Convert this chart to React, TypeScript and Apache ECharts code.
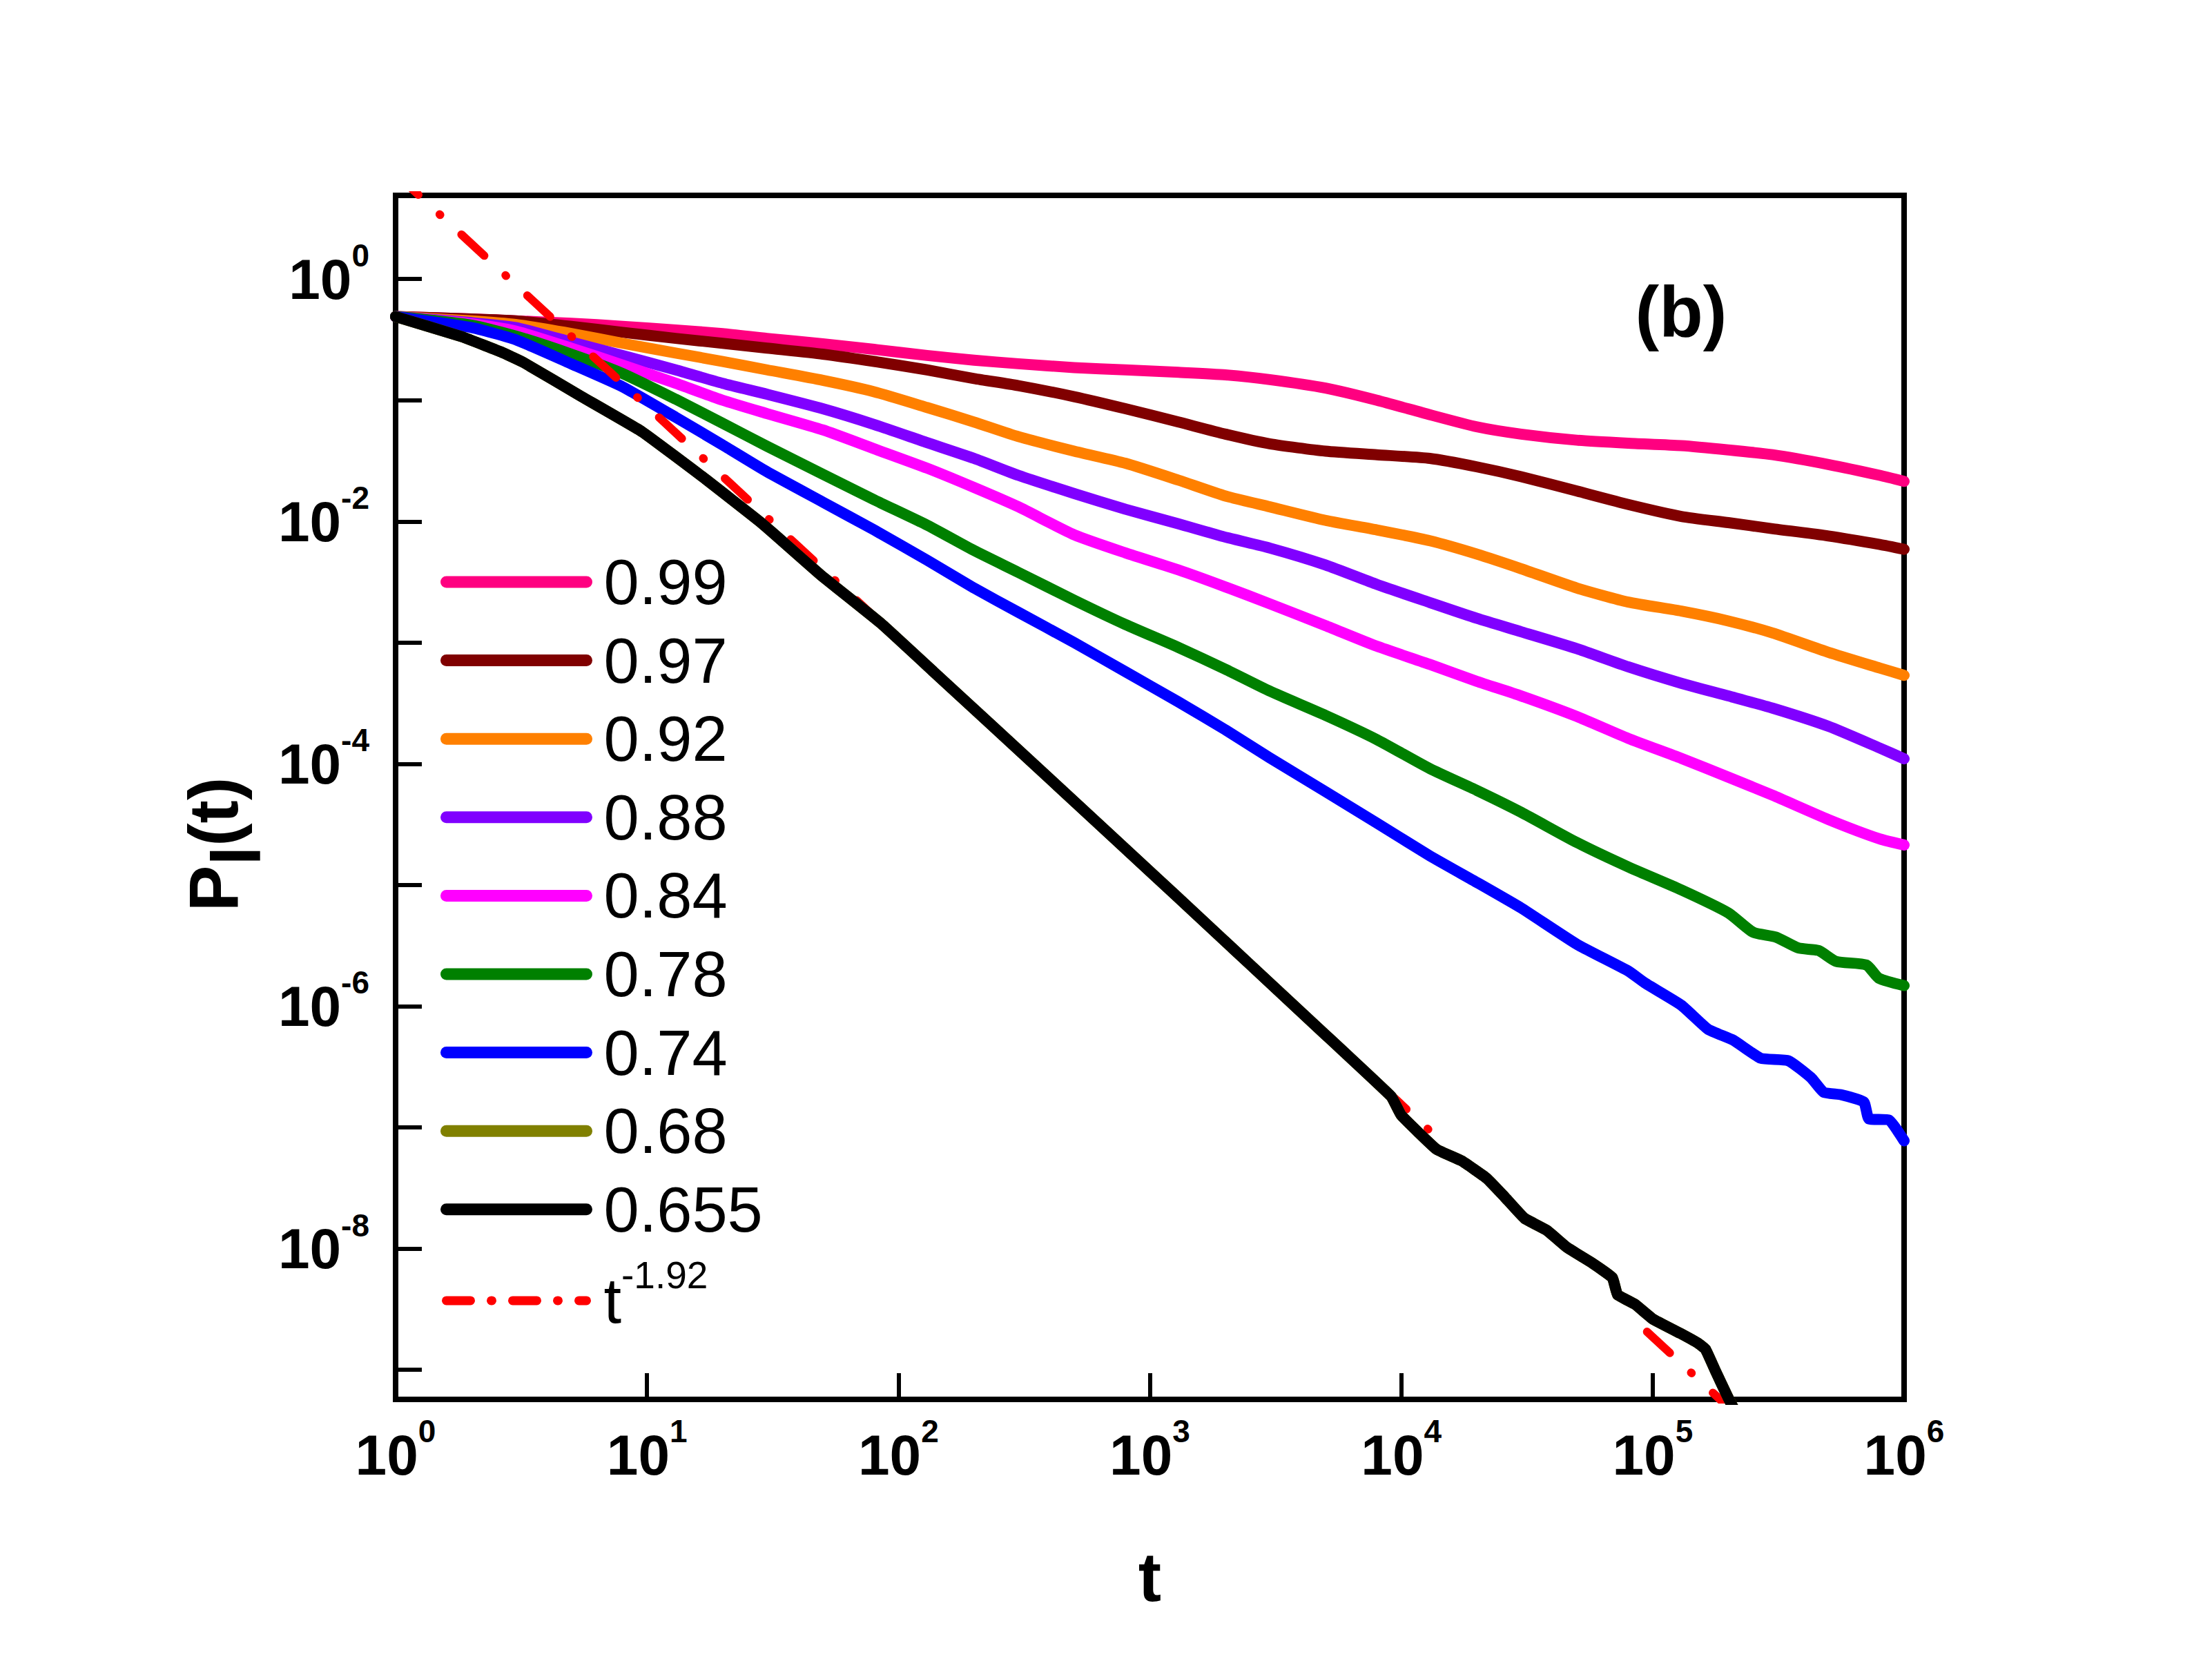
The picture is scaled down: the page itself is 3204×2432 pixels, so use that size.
import React, { useEffect, useRef } from 'react';
import * as echarts from 'echarts';

const FONT = '"Liberation Sans", Arial, sans-serif';

// ---- data ----
const tGrid = [1, 2, 3, 5, 8, 13, 20, 30, 50, 80, 130, 200, 300, 500, 800, 1300, 2000, 3000, 5000, 8000,
  13000, 20000, 30000, 50000, 80000, 130000, 200000, 300000, 500000, 800000, 1000000];

const p099 = [0.49, 0.468, 0.452, 0.432, 0.407, 0.38, 0.355, 0.324, 0.292, 0.263, 0.234, 0.214, 0.2, 0.186, 0.178,
  0.17, 0.162, 0.148, 0.126, 0.1, 0.0759, 0.0603, 0.0525, 0.0468, 0.0442, 0.0422, 0.0389, 0.0355, 0.0295, 0.024, 0.0214];

const p097 = [0.49, 0.468, 0.452, 0.407, 0.363, 0.324, 0.295, 0.269, 0.24, 0.209, 0.178, 0.151, 0.132, 0.107, 0.0851,
  0.0661, 0.0525, 0.0437, 0.038, 0.0355, 0.0331, 0.0282, 0.0234, 0.0178, 0.0138, 0.011, 0.00977, 0.00871, 0.00759, 0.00646, 0.00589];

const p092 = [0.49, 0.452, 0.422, 0.355, 0.295, 0.245, 0.209, 0.178, 0.146, 0.1175, 0.0871, 0.0661, 0.0501, 0.038, 0.0302,
  0.0219, 0.0162, 0.0132, 0.0102, 0.00851, 0.00692, 0.00537, 0.00407, 0.00282, 0.00216, 0.00182, 0.00151, 0.0012, 0.000832, 0.000617, 0.000537];

const p088 = [0.49, 0.437, 0.398, 0.302, 0.234, 0.178, 0.138, 0.112, 0.0851, 0.0631, 0.0447, 0.0331, 0.024, 0.017, 0.0126,
  0.00955, 0.00741, 0.00603, 0.00437, 0.00302, 0.00214, 0.001585, 0.00123, 0.000891, 0.000631, 0.000462, 0.000363, 0.000288, 0.000204, 0.000135, 0.00011];

const p084 = [0.49, 0.427, 0.372, 0.269, 0.195, 0.138, 0.1, 0.0776, 0.0569, 0.0398, 0.0275, 0.01905, 0.0132, 0.00776, 0.0055,
  0.00398, 0.00288, 0.00209, 0.00138, 0.000933, 0.000661, 0.000479, 0.000363, 0.0002455, 0.000162, 0.000111, 0.0000776, 0.000055, 0.0000347, 0.000024, 0.0000214];

const t078 = [1, 2, 3, 5, 8, 13, 20, 30, 50, 80, 130, 200, 300, 500, 800, 1300, 2000, 3000, 5000, 8000,
  13000, 20000, 30000, 50000, 80000, 130000, 200000, 251200, 309000, 380200, 457100, 537000, 707900, 794300, 1000000];
const p078 = [0.49, 0.417, 0.339, 0.24, 0.166, 0.102, 0.0646, 0.0417, 0.02455, 0.0151, 0.00933, 0.00575, 0.0038, 0.00224, 0.00141,
  0.000912, 0.000603, 0.000398, 0.000251, 0.0001585, 0.0000912, 0.0000603, 0.0000398, 0.0000224, 0.0000141, 0.00000912, 0.00000589,
  0.00000407, 0.00000372, 0.00000302, 0.00000288, 0.00000234, 0.00000219, 0.0000017, 0.00000148];

const t074 = [1, 2, 3, 5, 8, 13, 20, 30, 50, 80, 130, 200, 300, 500, 800, 1300, 2000, 3000, 5000, 8000,
  13000, 20000, 30000, 50000, 80000, 93330, 130000, 166000, 208900, 269200, 346700, 426600, 478600, 562300, 691800, 724400, 871000, 1000000];
const p074 = [0.49, 0.398, 0.316, 0.1995, 0.129, 0.0724, 0.0427, 0.0257, 0.01445, 0.00851, 0.00479, 0.00282, 0.00178, 0.001, 0.000575,
  0.000324, 0.0001905, 0.000112, 0.0000589, 0.0000324, 0.0000174, 0.0000105, 0.00000646, 0.00000324, 0.00000195,
  0.00000155, 0.00000102, 6.46e-7, 5.25e-7, 3.72e-7, 3.55e-7, 2.57e-7, 1.95e-7, 1.86e-7, 1.62e-7, 1.175e-7, 1.15e-7, 7.76e-8];

const t0655 = [1, 1.86, 2.69, 3.24, 5.5, 9.55, 16.6, 28.8, 49, 85.1, 138, 398, 1259, 4786, 9120, 10000, 13800, 17380, 21880, 25700,
  30900, 38020, 45710, 57540, 69180, 72440, 85110, 100000, 128800, 151400, 162200, 177800, 199500, 213800];
const p0655 = [0.49, 0.331, 0.245, 0.204, 0.107, 0.055, 0.0234, 0.00955, 0.00363, 0.001445, 0.000575, 0.0000759, 0.00000832, 6.31e-7,
  1.8e-7, 1.26e-7, 6.61e-8, 5.3e-8, 3.8e-8, 2.69e-8, 1.78e-8, 1.41e-8, 1.02e-8, 7.59e-9, 5.75e-9, 4.17e-9, 3.47e-9, 2.63e-9,
  2e-9, 1.66e-9, 1.48e-9, 9.77e-10, 5.89e-10, 4.47e-10];

// 0.68 lies hidden under the 0.655 curve in the picture
const t068 = t0655;
const p068 = p0655;

// t^-1.92 guide line, drawn in the two pieces that show in the picture ('-' = break)
const tFit = [1, 14500, 20000, 95000, 250000];
const pFit: (number | string)[] = [7.41, 7.59e-8, '-', 2.06e-9, 3.2e-10];

const names = ['0.99', '0.97', '0.92', '0.88', '0.84', '0.78', '0.74', '0.68', '0.655'];
const FIT = 'fit';

const zip = (t: number[], p: (number | string)[]) => t.map((v, i) => [v, p[i]]);

function curve(name: string, color: string, t: number[], p: number[], smooth: number | boolean) {
  return {
    type: 'line',
    name,
    data: zip(t, p),
    symbol: 'none',
    showSymbol: false,
    smooth,
    silent: true,
    color,
    itemStyle: { color },
    lineStyle: { color, width: 16, cap: 'round', join: 'round' },
  };
}

const supLabel = (v: number, everyOther: boolean) => {
  const e = Math.log10(v);
  const r = Math.round(e);
  if (Math.abs(e - r) > 1e-6) return '';
  if (everyOther && r % 2 !== 0) return '';
  return `{b|10}{s|${r}}`;
};

const labelRich = {
  b: { fontFamily: FONT, fontWeight: 'bold', fontSize: 82, lineHeight: 82, color: '#000' },
  s: { fontFamily: FONT, fontWeight: 'bold', fontSize: 46, lineHeight: 46, color: '#000', padding: [0, 0, 68, 0] },
};

export default function App() {
  const ref = useRef<HTMLDivElement>(null);
  useEffect(() => {
    document.body.style.margin = '0';
    const chart = echarts.init(ref.current!, null, { renderer: 'svg' });
    const option: any = {
      animation: false,
      backgroundColor: '#fff',
      grid: {
        left: 573, top: 283, width: 2185, height: 1744,
        show: true, borderColor: '#000', borderWidth: 8, backgroundColor: 'transparent',
      },
      xAxis: {
        type: 'log', logBase: 10, min: 1, max: 1000000, splitNumber: 6,
        axisLine: { show: true, onZero: false, lineStyle: { color: '#000', width: 8 } },
        axisTick: { show: true, inside: true, length: 38, lineStyle: { color: '#000', width: 6 } },
        splitLine: { show: false },
        axisLabel: {
          margin: 39, formatter: (v: number) => supLabel(v, false), rich: labelRich,
          showMinLabel: true, showMaxLabel: true,
        },
        name: 't', nameLocation: 'middle', nameGap: 207,
        nameTextStyle: { fontFamily: FONT, fontWeight: 'bold', fontSize: 100, color: '#000' },
      },
      yAxis: {
        type: 'log', logBase: 10, min: 5.7e-10, max: 4.9, splitNumber: 10,
        axisLine: { show: true, onZero: false, lineStyle: { color: '#000', width: 8 } },
        axisTick: { show: true, inside: true, length: 38, lineStyle: { color: '#000', width: 6 } },
        splitLine: { show: false },
        axisLabel: { margin: 38, formatter: (v: number) => supLabel(v, true), rich: labelRich },
        name: '{p|P}{l|l}{p|(t)}', nameLocation: 'middle', nameGap: 209,
        nameTextStyle: {
          fontFamily: FONT, fontWeight: 'bold', fontSize: 100, color: '#000', padding: [0, 136, 0, 0],
          rich: {
            p: { fontFamily: FONT, fontWeight: 'bold', fontSize: 100, lineHeight: 100, color: '#000' },
            l: { fontFamily: FONT, fontWeight: 'bold', fontSize: 100, lineHeight: 100, color: '#000', padding: [66, 0, 0, 0] },
          },
        },
      },
      legend: {
        orient: 'vertical', left: 638, top: 797, padding: 0, itemGap: 21.6,
        itemWidth: 203, itemHeight: 17, selectedMode: false,
        data: [...names.map((n) => ({ name: n })), { name: FIT, lineStyle: { width: 13, type: [35, 30, 1, 30] } }],
        itemStyle: { opacity: 0 },
        lineStyle: { width: 17, cap: 'round' },
        formatter: (n: string) => (n === FIT ? '{n|t}{e|-1.92}' : `{n|${n}}`),
        textStyle: {
          fontFamily: FONT, fontSize: 92, color: '#000',
          rich: {
            n: { fontFamily: FONT, fontSize: 92, lineHeight: 92, color: '#000', padding: [0, 0, 0, 20] },
            e: { fontFamily: FONT, fontSize: 55, lineHeight: 55, color: '#000', padding: [0, 0, 74, 0] },
          },
        },
      },
      graphic: [
        {
          type: 'text', x: 2435, y: 451, silent: true,
          style: {
            text: '(b)', fontFamily: FONT, fontWeight: 'bold', fontSize: 104, fill: '#000',
            align: 'center', verticalAlign: 'middle',
          },
        },
      ],
      series: [
        curve('0.99', '#FF0080', tGrid, p099, 0.2),
        curve('0.97', '#800000', tGrid, p097, 0.2),
        curve('0.92', '#FF8000', tGrid, p092, 0.2),
        curve('0.88', '#8000FF', tGrid, p088, 0.2),
        curve('0.84', '#FF00FF', tGrid, p084, 0.2),
        curve('0.78', '#008000', t078, p078, 0.2),
        curve('0.74', '#0000FF', t074, p074, 0.15),
        {
          type: 'line', name: FIT, data: zip(tFit, pFit), symbol: 'none', showSymbol: false, silent: true,
          connectNulls: false,
          color: '#FF0000', itemStyle: { color: '#FF0000' },
          lineStyle: { color: '#FF0000', width: 12, type: [45, 42, 1, 42], cap: 'round' },
        },
        curve('0.68', '#808000', t068, p068, 0.1),
        curve('0.655', '#000000', t0655, p0655, 0.1),
      ],
    };
    chart.setOption(option);
    return () => chart.dispose();
  }, []);
  return <div ref={ref} style={{ width: 3204, height: 2432, background: '#fff' }} />;
}
